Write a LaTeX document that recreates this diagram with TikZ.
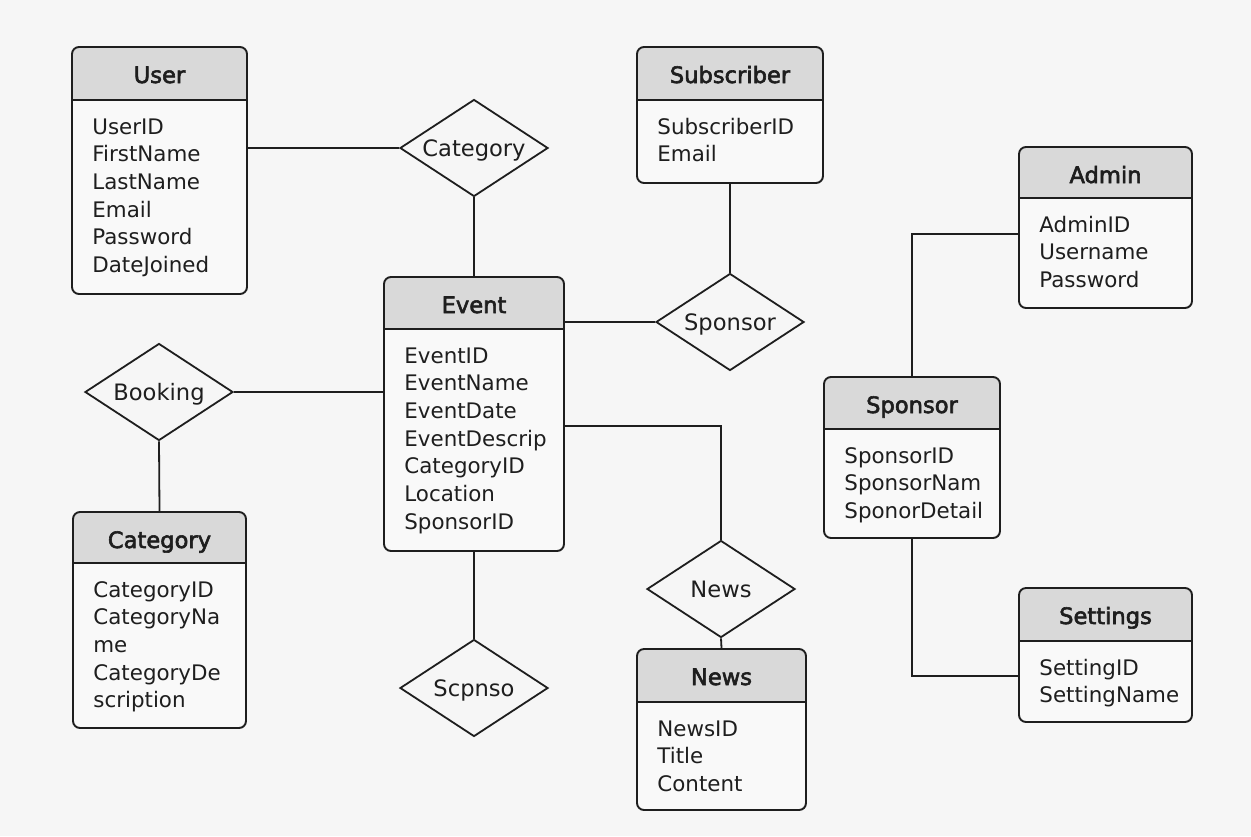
\documentclass[tikz,border=0pt]{standalone}
\usepackage{fontspec}
\setmainfont{DejaVu Sans}
\newfontfamily\titlefont[FakeBold=2.6]{DejaVu Sans}
\usetikzlibrary{shapes.geometric,fit}

\definecolor{paper}{HTML}{F6F6F6}
\definecolor{bodyfill}{HTML}{F9F9F9}
\definecolor{headfill}{HTML}{D9D9D9}
\definecolor{ink}{HTML}{1E1E1E}

\tikzset{
  rule/.style={draw=ink, line width=0.9pt},
  link/.style={draw=ink, line width=0.9pt},
  entity box/.style={draw=ink, line width=0.95pt, rounded corners=3.5pt, inner sep=0pt},
  title text/.style={text=ink, font=\titlefont\fontsize{11.3}{13}\selectfont, inner sep=0pt},
  attr text/.style={text=ink, font=\fontsize{10.7}{13}\selectfont, inner sep=0pt},
  relation/.style={diamond, draw=ink, line width=0.9pt, fill=paper, inner sep=0pt,
    aspect=1.5, minimum width=74pt, minimum height=48.5pt, text=ink,
    text height=0.8em, text depth=0pt,
    font=\fontsize{11.3}{13}\selectfont},
}

% entity table: name, left, top, right, bottom, header line, title, attributes
\newcommand\erentity[8]{%
  \begin{scope}
    \clip[rounded corners=3.5pt] (#2,#3) rectangle (#4,#5);
    \fill[bodyfill] (#2,#3) rectangle (#4,#5);
    \fill[headfill] (#2,#3) rectangle (#4,#6);
  \end{scope}
  \node[entity box, fit={(#2,#3) (#4,#5)}] (#1) {};
  \draw[rule] (#2,#6) -- (#4,#6);
  \pgfmathsetmacro\ercx{(#2+#4)/2}
  \node[title text, anchor=base] (#1-title) at (\ercx,#3+36) {#7};
  \foreach \a [count=\i] in {#8} {
    \node[attr text, anchor=base west] (#1-a\i) at (#2+20,#6+34+27.7*\i-27.7) {\a};
  }
}

\begin{document}
\begin{tikzpicture}[x=0.5pt, y=-0.5pt]
  \fill[paper] (0,0) rectangle (1251,836);
  \useasboundingbox (0,0) rectangle (1251,836);

  % entities
  \erentity{user}{72}{47}{247}{294}{100}{User}{UserID,FirstName,LastName,Email,Password,DateJoined}
  \erentity{event}{384}{277}{564}{551}{329}{Event}{EventID,EventName,EventDate,EventDescrip,CategoryID,Location,SponsorID}
  \erentity{category}{73}{512}{246}{728}{563}{Category}{CategoryID,CategoryNa,me,CategoryDe,scription}
  \erentity{subscriber}{637}{47}{823}{183}{100}{Subscriber}{SubscriberID,Email}
  \erentity{news}{637}{649}{806}{810}{702}{News}{NewsID,Title,Content}
  \erentity{admin}{1019}{147}{1192}{308}{198}{Admin}{AdminID,Username,Password}
  \erentity{sponsor}{824}{377}{1000}{538}{429}{Sponsor}{SponsorID,SponsorNam,SponorDetail}
  \erentity{settings}{1019}{588}{1192}{722}{641}{Settings}{SettingID,SettingName}

  % relationships
  \node[relation] (relcat) at (474,148) {Category};
  \node[relation] (relspon) at (730,322) {Sponsor};
  \node[relation] (relbook) at (159,392) {Booking};
  \node[relation] (relnews) at (721,589) {News};
  \node[relation] (relscp) at (474,688) {Scpnso};

  % elbow points
  \coordinate (newsbend) at (721,426);
  \coordinate (adminbend) at (912,234);
  \coordinate (settingsbend) at (912,676);

  % connectors
  \draw[link] (relcat.west -| user.east) -- (relcat.west);
  \draw[link] (relcat.south) -- (event.north);
  \draw[link] (relspon.west -| event.east) -- (relspon.west);
  \draw[link] (subscriber.south) -- (relspon.north);
  \draw[link] (relbook.east) -- (relbook.east -| event.west);
  \draw[link] (relbook.south) -- (category.north);
  \draw[link] (newsbend -| event.east) -- (newsbend) -- (relnews.north);
  \draw[link] (relnews.south) -- (news.north);
  \draw[link] (event.south) -- (relscp.north);
  \draw[link] (adminbend -| admin.west) -- (adminbend) -- (sponsor.north);
  \draw[link] (sponsor.south) -- (settingsbend) -- (settingsbend -| settings.west);
\end{tikzpicture}
\end{document}
